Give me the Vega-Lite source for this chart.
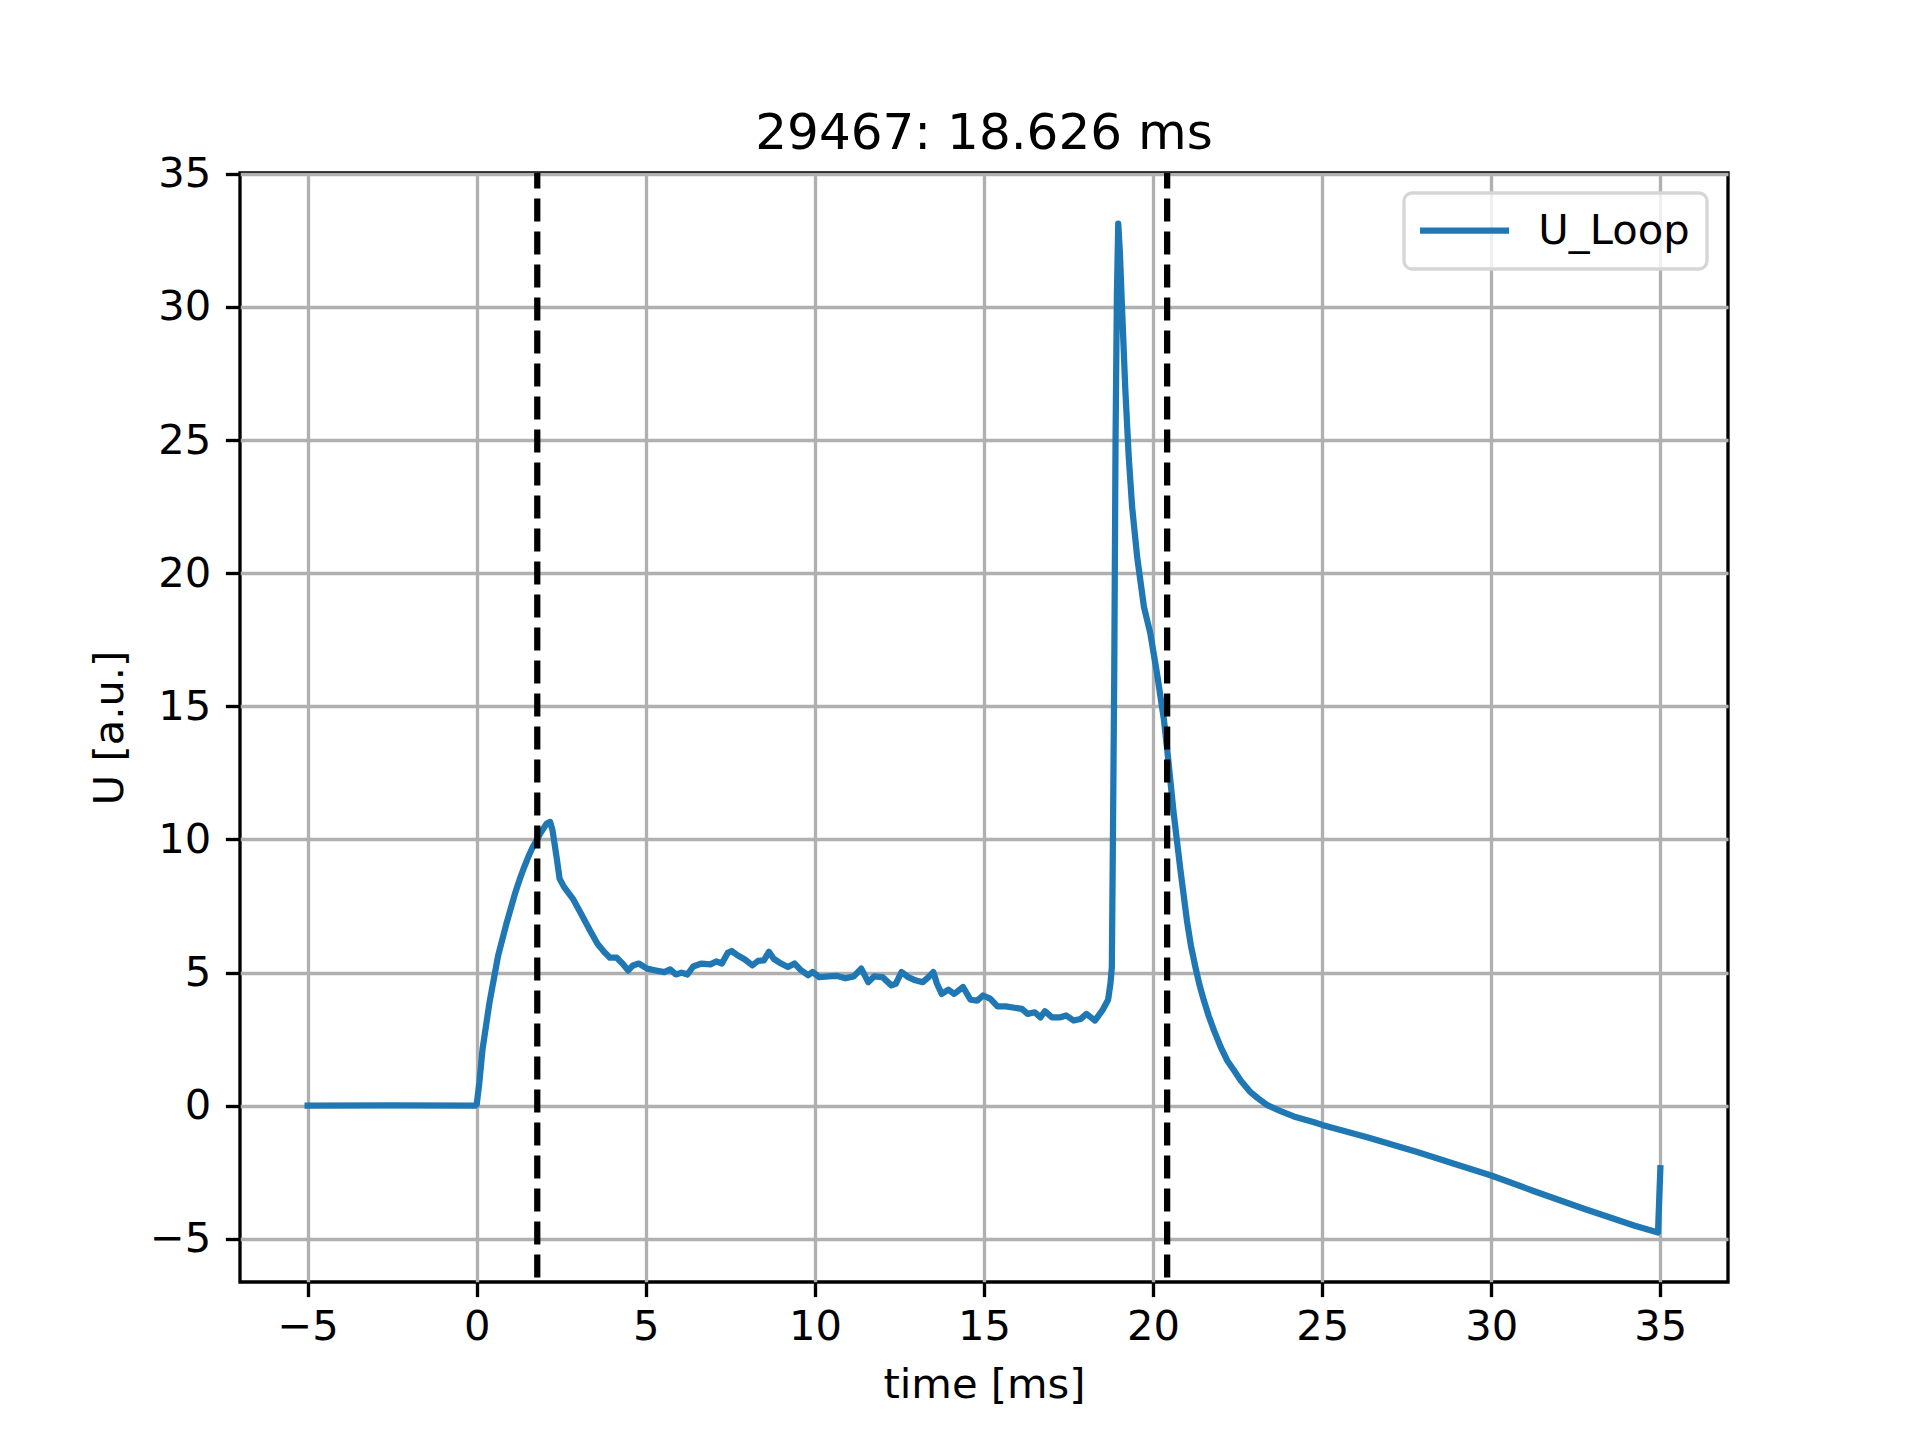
{
  "$schema": "https://vega.github.io/schema/vega-lite/v6.json",
  "autosize": {"type": "none"},
  "padding": {"left": 240, "top": 173, "right": 192, "bottom": 158},
  "width": 1488,
  "height": 1109,
  "background": "white",
  "title": {"text": "29467: 18.626 ms", "font": "DejaVu Sans", "fontSize": 50, "fontWeight": "normal", "color": "black", "offset": -45, "baseline": "alphabetic", "anchor": "middle", "frame": "group"},
  "config": {
    "view": {"stroke": "black", "strokeWidth": 3.33},
    "axis": {
      "labelFont": "DejaVu Sans", "titleFont": "DejaVu Sans",
      "labelFontSize": 41.67, "titleFontSize": 41.67, "titleFontWeight": "normal",
      "labelColor": "black", "titleColor": "black",
      "gridColor": "#b0b0b0", "gridWidth": 3.33, "gridOpacity": 1,
      "tickColor": "black", "tickWidth": 3.33, "tickSize": 14.6, "labelPadding": 14.6,
      "domain": false
    },
    "legend": {"strokeWidth": 3.33}
  },
  "layer": [
    {
      "data": {"values": [
        {"t": -5, "U": 0, "series": "U_Loop"},
        {"t": -2.5, "U": 0.01, "series": "U_Loop"},
        {"t": -0.05, "U": 0, "series": "U_Loop"},
        {"t": 0.0, "U": 0.05, "series": "U_Loop"},
        {"t": 0.08, "U": 0.9, "series": "U_Loop"},
        {"t": 0.17, "U": 2.1, "series": "U_Loop"},
        {"t": 0.375, "U": 3.86, "series": "U_Loop"},
        {"t": 0.63, "U": 5.62, "series": "U_Loop"},
        {"t": 0.885, "U": 6.87, "series": "U_Loop"},
        {"t": 1.14, "U": 8.0, "series": "U_Loop"},
        {"t": 1.27, "U": 8.5, "series": "U_Loop"},
        {"t": 1.39, "U": 8.92, "series": "U_Loop"},
        {"t": 1.52, "U": 9.33, "series": "U_Loop"},
        {"t": 1.65, "U": 9.7, "series": "U_Loop"},
        {"t": 1.9, "U": 10.27, "series": "U_Loop"},
        {"t": 2.07, "U": 10.6, "series": "U_Loop"},
        {"t": 2.17, "U": 10.66, "series": "U_Loop"},
        {"t": 2.24, "U": 10.35, "series": "U_Loop"},
        {"t": 2.36, "U": 9.35, "series": "U_Loop"},
        {"t": 2.45, "U": 8.53, "series": "U_Loop"},
        {"t": 2.58, "U": 8.22, "series": "U_Loop"},
        {"t": 2.84, "U": 7.78, "series": "U_Loop"},
        {"t": 3.09, "U": 7.2, "series": "U_Loop"},
        {"t": 3.35, "U": 6.58, "series": "U_Loop"},
        {"t": 3.57, "U": 6.08, "series": "U_Loop"},
        {"t": 3.77, "U": 5.77, "series": "U_Loop"},
        {"t": 3.94, "U": 5.56, "series": "U_Loop"},
        {"t": 4.14, "U": 5.56, "series": "U_Loop"},
        {"t": 4.31, "U": 5.34, "series": "U_Loop"},
        {"t": 4.48, "U": 5.08, "series": "U_Loop"},
        {"t": 4.62, "U": 5.27, "series": "U_Loop"},
        {"t": 4.79, "U": 5.34, "series": "U_Loop"},
        {"t": 5.04, "U": 5.15, "series": "U_Loop"},
        {"t": 5.3, "U": 5.08, "series": "U_Loop"},
        {"t": 5.55, "U": 5.02, "series": "U_Loop"},
        {"t": 5.72, "U": 5.12, "series": "U_Loop"},
        {"t": 5.89, "U": 4.93, "series": "U_Loop"},
        {"t": 6.06, "U": 5.0, "series": "U_Loop"},
        {"t": 6.23, "U": 4.93, "series": "U_Loop"},
        {"t": 6.4, "U": 5.23, "series": "U_Loop"},
        {"t": 6.65, "U": 5.34, "series": "U_Loop"},
        {"t": 6.91, "U": 5.31, "series": "U_Loop"},
        {"t": 7.08, "U": 5.42, "series": "U_Loop"},
        {"t": 7.25, "U": 5.34, "series": "U_Loop"},
        {"t": 7.42, "U": 5.74, "series": "U_Loop"},
        {"t": 7.54, "U": 5.81, "series": "U_Loop"},
        {"t": 7.71, "U": 5.65, "series": "U_Loop"},
        {"t": 7.93, "U": 5.49, "series": "U_Loop"},
        {"t": 8.15, "U": 5.27, "series": "U_Loop"},
        {"t": 8.32, "U": 5.44, "series": "U_Loop"},
        {"t": 8.49, "U": 5.46, "series": "U_Loop"},
        {"t": 8.64, "U": 5.78, "series": "U_Loop"},
        {"t": 8.78, "U": 5.52, "series": "U_Loop"},
        {"t": 9.0, "U": 5.34, "series": "U_Loop"},
        {"t": 9.2, "U": 5.21, "series": "U_Loop"},
        {"t": 9.4, "U": 5.34, "series": "U_Loop"},
        {"t": 9.57, "U": 5.11, "series": "U_Loop"},
        {"t": 9.8, "U": 4.9, "series": "U_Loop"},
        {"t": 9.93, "U": 5.02, "series": "U_Loop"},
        {"t": 10.13, "U": 4.83, "series": "U_Loop"},
        {"t": 10.39, "U": 4.86, "series": "U_Loop"},
        {"t": 10.64, "U": 4.88, "series": "U_Loop"},
        {"t": 10.9, "U": 4.79, "series": "U_Loop"},
        {"t": 11.15, "U": 4.86, "series": "U_Loop"},
        {"t": 11.37, "U": 5.15, "series": "U_Loop"},
        {"t": 11.58, "U": 4.64, "series": "U_Loop"},
        {"t": 11.75, "U": 4.86, "series": "U_Loop"},
        {"t": 12.0, "U": 4.83, "series": "U_Loop"},
        {"t": 12.26, "U": 4.52, "series": "U_Loop"},
        {"t": 12.39, "U": 4.58, "series": "U_Loop"},
        {"t": 12.56, "U": 5.02, "series": "U_Loop"},
        {"t": 12.76, "U": 4.83, "series": "U_Loop"},
        {"t": 12.97, "U": 4.71, "series": "U_Loop"},
        {"t": 13.19, "U": 4.64, "series": "U_Loop"},
        {"t": 13.36, "U": 4.83, "series": "U_Loop"},
        {"t": 13.5, "U": 5.02, "series": "U_Loop"},
        {"t": 13.61, "U": 4.58, "series": "U_Loop"},
        {"t": 13.75, "U": 4.2, "series": "U_Loop"},
        {"t": 13.95, "U": 4.36, "series": "U_Loop"},
        {"t": 14.12, "U": 4.2, "series": "U_Loop"},
        {"t": 14.38, "U": 4.46, "series": "U_Loop"},
        {"t": 14.6, "U": 3.98, "series": "U_Loop"},
        {"t": 14.8, "U": 3.95, "series": "U_Loop"},
        {"t": 14.97, "U": 4.14, "series": "U_Loop"},
        {"t": 15.18, "U": 4.02, "series": "U_Loop"},
        {"t": 15.4, "U": 3.73, "series": "U_Loop"},
        {"t": 15.65, "U": 3.73, "series": "U_Loop"},
        {"t": 15.9, "U": 3.68, "series": "U_Loop"},
        {"t": 16.12, "U": 3.64, "series": "U_Loop"},
        {"t": 16.29, "U": 3.45, "series": "U_Loop"},
        {"t": 16.5, "U": 3.51, "series": "U_Loop"},
        {"t": 16.67, "U": 3.32, "series": "U_Loop"},
        {"t": 16.8, "U": 3.55, "series": "U_Loop"},
        {"t": 17.01, "U": 3.32, "series": "U_Loop"},
        {"t": 17.26, "U": 3.32, "series": "U_Loop"},
        {"t": 17.43, "U": 3.39, "series": "U_Loop"},
        {"t": 17.65, "U": 3.2, "series": "U_Loop"},
        {"t": 17.86, "U": 3.26, "series": "U_Loop"},
        {"t": 18.03, "U": 3.45, "series": "U_Loop"},
        {"t": 18.28, "U": 3.2, "series": "U_Loop"},
        {"t": 18.5, "U": 3.58, "series": "U_Loop"},
        {"t": 18.67, "U": 3.98, "series": "U_Loop"},
        {"t": 18.74, "U": 4.6, "series": "U_Loop"},
        {"t": 18.78, "U": 5.2, "series": "U_Loop"},
        {"t": 18.81, "U": 9.7, "series": "U_Loop"},
        {"t": 18.85, "U": 16.0, "series": "U_Loop"},
        {"t": 18.89, "U": 25.0, "series": "U_Loop"},
        {"t": 18.93, "U": 30.5, "series": "U_Loop"},
        {"t": 18.97, "U": 33.13, "series": "U_Loop"},
        {"t": 19.02, "U": 32.0, "series": "U_Loop"},
        {"t": 19.08, "U": 30.0, "series": "U_Loop"},
        {"t": 19.18, "U": 26.87, "series": "U_Loop"},
        {"t": 19.28, "U": 24.37, "series": "U_Loop"},
        {"t": 19.38, "U": 22.49, "series": "U_Loop"},
        {"t": 19.53, "U": 20.6, "series": "U_Loop"},
        {"t": 19.73, "U": 18.73, "series": "U_Loop"},
        {"t": 19.92, "U": 17.73, "series": "U_Loop"},
        {"t": 20.12, "U": 16.2, "series": "U_Loop"},
        {"t": 20.32, "U": 14.5, "series": "U_Loop"},
        {"t": 20.41, "U": 13.47, "series": "U_Loop"},
        {"t": 20.61, "U": 10.97, "series": "U_Loop"},
        {"t": 20.81, "U": 8.84, "series": "U_Loop"},
        {"t": 21.0, "U": 6.96, "series": "U_Loop"},
        {"t": 21.12, "U": 6.0, "series": "U_Loop"},
        {"t": 21.25, "U": 5.21, "series": "U_Loop"},
        {"t": 21.37, "U": 4.55, "series": "U_Loop"},
        {"t": 21.5, "U": 3.96, "series": "U_Loop"},
        {"t": 21.65, "U": 3.35, "series": "U_Loop"},
        {"t": 21.8, "U": 2.83, "series": "U_Loop"},
        {"t": 22.0, "U": 2.2, "series": "U_Loop"},
        {"t": 22.19, "U": 1.7, "series": "U_Loop"},
        {"t": 22.39, "U": 1.33, "series": "U_Loop"},
        {"t": 22.59, "U": 0.95, "series": "U_Loop"},
        {"t": 22.88, "U": 0.51, "series": "U_Loop"},
        {"t": 23.08, "U": 0.3, "series": "U_Loop"},
        {"t": 23.38, "U": 0.02, "series": "U_Loop"},
        {"t": 23.77, "U": -0.2, "series": "U_Loop"},
        {"t": 24.16, "U": -0.4, "series": "U_Loop"},
        {"t": 24.76, "U": -0.62, "series": "U_Loop"},
        {"t": 25.0, "U": -0.72, "series": "U_Loop"},
        {"t": 26.33, "U": -1.18, "series": "U_Loop"},
        {"t": 27.81, "U": -1.74, "series": "U_Loop"},
        {"t": 28.9, "U": -2.18, "series": "U_Loop"},
        {"t": 30.0, "U": -2.62, "series": "U_Loop"},
        {"t": 31.27, "U": -3.21, "series": "U_Loop"},
        {"t": 32.74, "U": -3.87, "series": "U_Loop"},
        {"t": 34.22, "U": -4.5, "series": "U_Loop"},
        {"t": 34.93, "U": -4.76, "series": "U_Loop"},
        {"t": 35.0, "U": -2.35, "series": "U_Loop"}
      ]},
      "mark": {"type": "line", "strokeWidth": 6.25, "clip": true, "strokeJoin": "round", "strokeCap": "square"},
      "encoding": {
        "x": {"field": "t", "type": "quantitative", "sort": null,
              "scale": {"domain": [-7, 37], "nice": false, "zero": false},
              "axis": {"values": [-5, 0, 5, 10, 15, 20, 25, 30, 35], "title": "time [ms]", "labelPadding": 9.6, "titlePadding": 17, "grid": true}},
        "y": {"field": "U", "type": "quantitative",
              "scale": {"domain": [-6.62, 35.03], "nice": false, "zero": false},
              "axis": {"values": [-5, 0, 5, 10, 15, 20, 25, 30, 35], "title": "U [a.u.]", "titlePadding": 18, "grid": true}},
        "color": {"field": "series", "type": "nominal",
                  "scale": {"range": ["#1f77b4"]},
                  "legend": {"title": null, "orient": "none", "legendX": 1164, "legendY": 20,
                             "symbolType": "M-2.97,0H2.97", "symbolSize": 900, "symbolStrokeWidth": 6.25, "symbolOffset": 23,
                             "labelFont": "DejaVu Sans", "labelFontSize": 41.67, "labelColor": "black", "labelOffset": 53,
                             "padding": 16.7, "strokeColor": "#d6d6d6", "cornerRadius": 8, "fillColor": "rgba(255,255,255,0.8)"}}
      }
    },
    {
      "data": {"values": [{"t": 1.79}, {"t": 20.416}]},
      "mark": {"type": "rule", "color": "black", "strokeWidth": 6.25, "strokeDash": [23, 10], "strokeDashOffset": 7.5},
      "encoding": {"x": {"field": "t", "type": "quantitative"}}
    }
  ]
}
